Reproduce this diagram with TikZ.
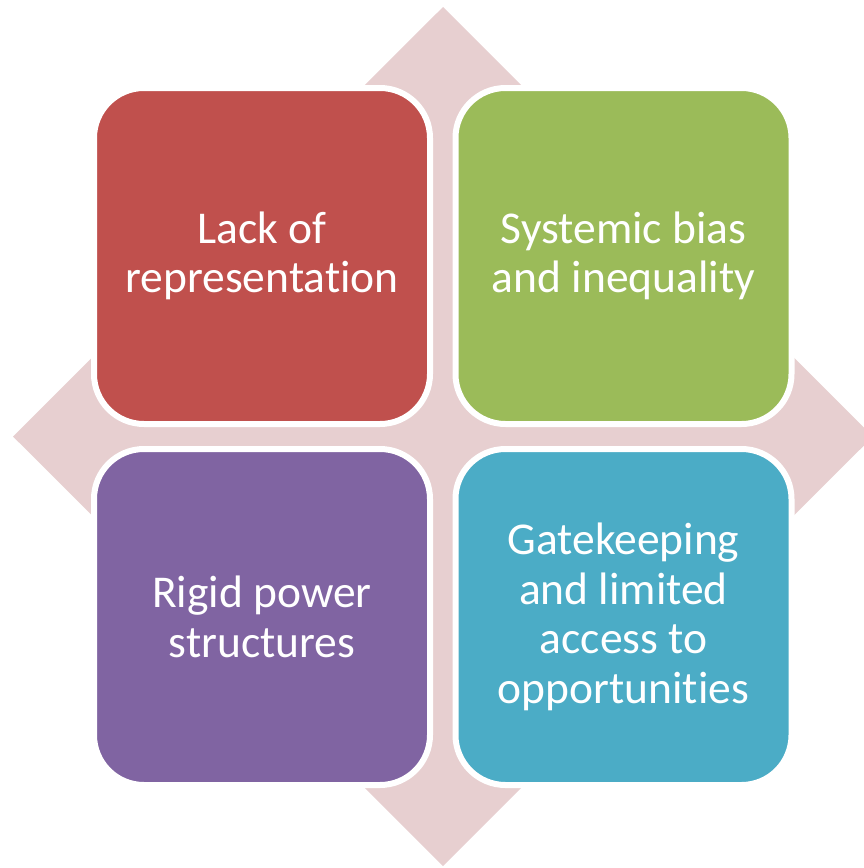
\documentclass[tikz,border=0pt]{standalone}
\usepackage{fontspec}
\setmainfont{Carlito}[Ligatures={NoCommon}]
\definecolor{diamc}{RGB}{231,207,208}
\definecolor{redc}{RGB}{192,80,77}
\definecolor{greenc}{RGB}{155,187,89}
\definecolor{purplec}{RGB}{128,100,162}
\definecolor{bluec}{RGB}{75,172,198}
\begin{document}
\begin{tikzpicture}[x=1pt,y=-1pt,
  box/.style={draw=white, line width=6pt, rounded corners=50pt, rectangle,
    minimum width=336pt, minimum height=336pt, inner sep=0pt,
    text=white, align=center, font=\fontsize{45.5}{49.5}\selectfont}]
\useasboundingbox (0,0) rectangle (864,868);
\clip (0,0) rectangle (864,868);
\coordinate (t) at (443,7);
\coordinate (r) at (873,436.5);
\coordinate (b) at (443,866);
\coordinate (l) at (13,436.5);
\fill[diamc] (t) -- (r) -- (b) -- (l) -- cycle;
\node[box, fill=redc] (red) at (262,256) {Lack of\\representation};
\node[box, fill=greenc] (green) at (623.5,256) {Systemic bias\\and inequality};
\node[box, fill=purplec] (purple) at (262,617) {Rigid power\\structures};
\node[box, fill=bluec] (blue) at (623.5,617) {Gatekeeping\\and limited\\access to\\opportunities};
\end{tikzpicture}
\end{document}
